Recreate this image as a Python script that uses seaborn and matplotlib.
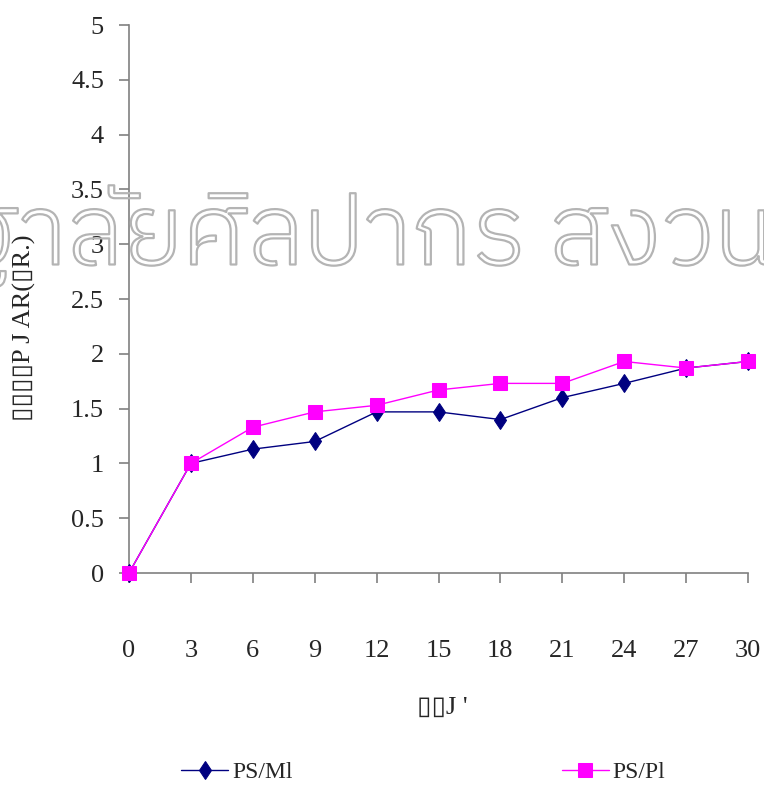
import matplotlib
matplotlib.use("Agg")
import matplotlib.pyplot as plt
import matplotlib.patheffects as pe
import seaborn as sns
import pandas as pd

days = [0, 3, 6, 9, 12, 15, 18, 21, 24, 27, 30]
ps_ml = [0, 1.0, 1.13, 1.2, 1.47, 1.47, 1.4, 1.6, 1.73, 1.87, 1.93]
ps_pl = [0, 1.0, 1.33, 1.47, 1.53, 1.67, 1.73, 1.73, 1.93, 1.87, 1.93]
y_ticks = [0, 0.5, 1, 1.5, 2, 2.5, 3, 3.5, 4, 4.5, 5]
y_tick_labels = ["0", "0.5", "1", "1.5", "2", "2.5", "3", "3.5", "4", "4.5", "5"]
y_label = "\u25af\u25af\u25af\u25afP J AR(\u25afR.)"
x_label = "\u25af\u25afJ '"
watermark = "ฐาลัยศิลปากร สงวนลิ"

sns.set_theme(style="white")
plt.rcParams['font.family'] = ['Liberation Serif', 'DejaVu Serif', 'DejaVu Sans']

fig = plt.figure(figsize=(7.64, 7.85), dpi=100)
ax = fig.add_axes([129/764, 1-573/785, (748-129)/764, (573-25)/785])

df = pd.DataFrame({"x": list(range(len(days))) * 2,
                   "y": ps_ml + ps_pl,
                   "series": ["PS/Ml"] * len(days) + ["PS/Pl"] * len(days)})

sns.lineplot(data=df[df.series == "PS/Ml"], x="x", y="y", ax=ax, color="#000080",
             marker="d", markersize=9.5, markeredgecolor="#000080", linewidth=1, label="PS/Ml", zorder=3)
sns.lineplot(data=df[df.series == "PS/Pl"], x="x", y="y", ax=ax, color="#FF00FF",
             marker="s", markersize=10, markeredgecolor="#FF00FF", linewidth=1, label="PS/Pl", zorder=4)

ax.set_xlim(0, len(days) - 1)
ax.set_ylim(0, 5)
ax.set_xticks(range(len(days)))
ax.set_xticklabels([str(d) for d in days], fontsize=19)
ax.set_yticks(y_ticks)
ax.set_yticklabels(y_tick_labels, fontsize=19)
for s in ["top", "right"]:
    ax.spines[s].set_visible(False)
for s in ["left", "bottom"]:
    ax.spines[s].set_color("#808080")
    ax.spines[s].set_linewidth(1.2)
ax.tick_params(axis="x", direction="out", length=7, color="#808080", width=1.2, pad=41, bottom=True)
ax.tick_params(axis="y", direction="out", length=7, color="#808080", width=1.2, pad=11, left=True)
for l in ax.lines:
    l.set_clip_on(False)

ax.set_xlabel("")
ax.set_ylabel("")
fig.text(442/764, 1-708/785, x_label, ha="center", va="center", fontsize=19)
fig.text(24/764, 1-328/785, y_label, ha="center", va="center", rotation=90, fontsize=19)

leg = ax.legend(loc="upper left", bbox_to_anchor=(0.05, -0.305), ncol=2, frameon=False,
                fontsize=17, columnspacing=11.4, handlelength=2.0, handletextpad=0.15)

fig.text(395/764, 1-236/785, watermark, ha="center", va="center", fontsize=72,
         family=['IBM Plex Sans Thai', 'DejaVu Sans'], weight=300, color=(1, 1, 1, 0),
         path_effects=[pe.Stroke(linewidth=1.6, foreground="#b4b4b4")], zorder=10)

fig.savefig("out.png", dpi=100)
